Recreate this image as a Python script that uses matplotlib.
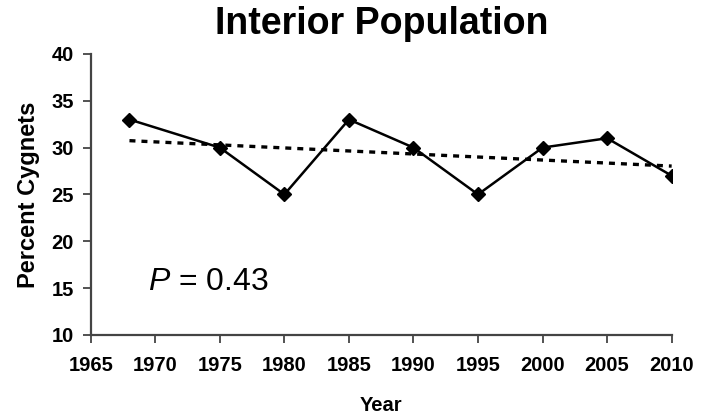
import matplotlib
matplotlib.use("Agg")
import matplotlib.pyplot as plt
import numpy as np

years = [1968, 1975, 1980, 1985, 1990, 1995, 2000, 2005, 2010]
pct_cygnets = [33, 30, 25, 33, 30, 25, 30, 31, 27]
xticks = [1965, 1970, 1975, 1980, 1985, 1990, 1995, 2000, 2005, 2010]
yticks = [10, 15, 20, 25, 30, 35, 40]

plt.rcParams['font.family'] = ['Liberation Sans', 'DejaVu Sans']
plt.rcParams['mathtext.fontset'] = 'custom'
plt.rcParams['mathtext.it'] = 'Liberation Sans:italic'
plt.rcParams['mathtext.rm'] = 'Liberation Sans'

fig = plt.figure(figsize=(7.05, 4.15), dpi=100)
ax = fig.add_axes([0.1287, 0.193, 0.824, 0.677])

ax.plot(years, pct_cygnets, color='black', lw=1.8, marker='D', ms=7, zorder=3)
coef = np.polyfit(years, pct_cygnets, 1)
tx = np.array([years[0], years[-1]])
ax.plot(tx, np.polyval(coef, tx), color='black', lw=2.4, dashes=(1.8, 1.8), zorder=2)

ax.set_xlim(1965, 2010)
ax.set_ylim(10, 40)
ax.set_xticks(xticks)
ax.set_yticks(yticks)
for lab in ax.get_xticklabels() + ax.get_yticklabels():
    lab.set_fontweight('bold')
ax.tick_params(axis='both', labelsize=14.5, length=6, width=1.3, color='#444444', direction='out')
ax.tick_params(axis='x', pad=9)
ax.tick_params(axis='y', pad=6)
for s in ['top', 'right']:
    ax.spines[s].set_visible(False)
for s in ['left', 'bottom']:
    ax.spines[s].set_color('#444444')
    ax.spines[s].set_linewidth(1.6)

ax.set_xlabel('Year', fontsize=14.5, fontweight='bold', labelpad=15)
ax.set_ylabel('Percent Cygnets', fontsize=17, fontweight='bold', labelpad=8)
fig.text(0.542, 0.943, 'Interior Population', ha='center', va='center', fontsize=27, fontweight='bold')
ax.text(1969.4, 15.6, r'$P$ = 0.43', fontsize=23, ha='left', va='center')

fig.savefig('out.png', dpi=100)
